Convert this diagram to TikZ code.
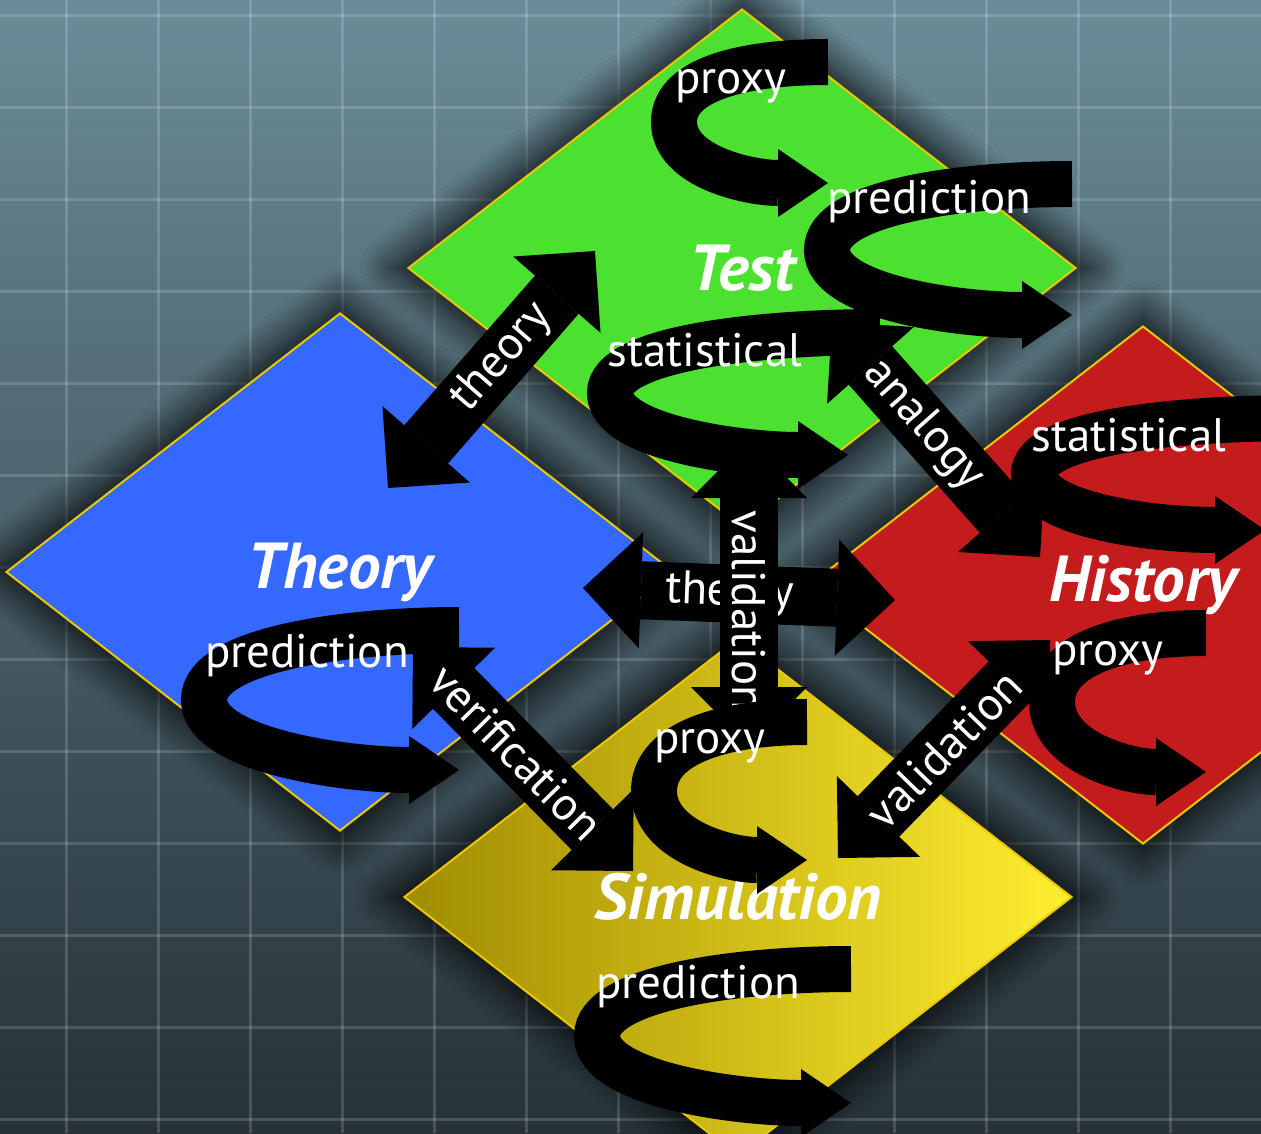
\documentclass[tikz,border=0pt]{standalone}
\usepackage{fontspec}
\setmainfont{PT Sans}
\usetikzlibrary{arrows.meta,shapes.geometric,shadows.blur}

\definecolor{bgtop}{RGB}{106,140,152}
\definecolor{bgbottom}{RGB}{38,50,56}
\definecolor{testgreen}{RGB}{76,224,48}
\definecolor{theoryblue}{RGB}{52,104,255}
\definecolor{historyred}{RGB}{196,28,28}
\definecolor{simdark}{RGB}{160,140,0}
\definecolor{simlight}{RGB}{255,238,48}
\definecolor{rim}{RGB}{235,200,0}

\begin{document}
\begin{tikzpicture}[
		x=1pt, y=-1pt,
		field/.style = {diamond, draw=rim, line width=2pt, minimum width=668pt, minimum height=518pt, inner sep=0pt,
			text=white, font=\fontsize{65}{65}\selectfont\bfseries\itshape,
			blur shadow={shadow xshift=0pt, shadow yshift=0pt, shadow scale=1.05, shadow blur radius=30pt, shadow blur steps=14, shadow opacity=85}},
		link/.style = {line width=58pt, {Triangle[width=116pt,length=58pt,line width=0pt]}-{Triangle[width=116pt,length=58pt,line width=0pt]}},
		selfarrow/.style = {line width=46pt, -{Triangle[width=68pt,length=50pt,line width=0pt]}},
		word/.style = {text=white, font=\fontsize{47}{47}\selectfont, inner sep=0pt}
	]
	\useasboundingbox (0,0) rectangle (1261,1133);
	\clip (0,0) rectangle (1261,1133);
	% board
	\shade[top color=bgtop, bottom color=bgbottom] (0,0) rectangle (1261,1133);
	\foreach \gx in {66,158,...,1262}
		\draw[white, opacity=.16, line width=3pt] (\gx,0) -- (\gx,1133);
	\foreach \gy in {15,107,...,1119}
		\draw[white, opacity=.16, line width=3pt] (0,\gy) -- (1261,\gy);

	% the four fields
	\node[field, fill=testgreen] (test) at (742,268) {Test};
	\node[field, fill=theoryblue] (theory) at (340,572) {Theory};
	\node[field, fill=historyred] (history) at (1143,585) {History};
	\node[field, left color=simdark, right color=simlight] (sim) at (738,897) {Simulation};

	% links between fields
	\coordinate (hz1) at (583,588);  \coordinate (hz2) at (895,600);
	\coordinate (vt1) at (749,440);  \coordinate (vt2) at (749,745);
	\coordinate (dg1) at (388,488);  \coordinate (dg2) at (595,251);
	\coordinate (an1) at (832,322);  \coordinate (an2) at (1040,557);
	\coordinate (vf1) at (413,647);  \coordinate (vf2) at (633,871);
	\coordinate (vd1) at (1050,640); \coordinate (vd2) at (838,858);
	\draw[link] (hz1) -- node[word, sloped, pos=.47] (hzlabel) {theory} (hz2);
	\draw[link] (vt1) -- node[word, rotate=-90, pos=.56] (vtlabel) {validation} (vt2);
	\draw[link] (dg1) -- node[word, sloped, pos=.55] (dglabel) {theory} (dg2);
	\draw[link] (an1) -- node[word, sloped, pos=.44] (anlabel) {analogy} (an2);
	\draw[link] (vf1) -- node[word, sloped, pos=.47] (vflabel) {verification} (vf2);
	\draw[link] (vd1) -- node[word, sloped, pos=.5] (vdlabel) {validation} (vd2);

	% loops inside the fields
	\coordinate (tp1) at (828,62);   \coordinate (tp2) at (674,122);  \coordinate (tp3) at (828,183);
	\coordinate (tr1) at (1072,184); \coordinate (tr2) at (827,250);  \coordinate (tr3) at (1072,315);
	\coordinate (ts1) at (880,332);  \coordinate (ts2) at (610,393);  \coordinate (ts3) at (848,455);
	\coordinate (yr1) at (459,630);  \coordinate (yr2) at (204,700);  \coordinate (yr3) at (459,770);
	\coordinate (hs1) at (1300,418); \coordinate (hs2) at (1034,474); \coordinate (hs3) at (1265,530);
	\coordinate (hp1) at (1206,633); \coordinate (hp2) at (1052,702); \coordinate (hp3) at (1206,772);
	\coordinate (sp1) at (807,722);  \coordinate (sp2) at (654,791);  \coordinate (sp3) at (807,860);
	\coordinate (sr1) at (851,969);  \coordinate (sr2) at (597,1036); \coordinate (sr3) at (851,1103);
	\draw[selfarrow] (tp1) .. controls +(-78,0) and +(0,-45) .. (tp2) .. controls +(0,45) and +(-78,0) .. (tp3);
	\draw[selfarrow] (tr1) .. controls +(-110,0) and +(0,-48) .. (tr2) .. controls +(0,48) and +(-110,0) .. (tr3);
	\draw[selfarrow] (ts1) .. controls +(-120,0) and +(0,-45) .. (ts2) .. controls +(0,45) and +(-105,0) .. (ts3);
	\draw[selfarrow] (yr1) .. controls +(-115,0) and +(0,-50) .. (yr2) .. controls +(0,50) and +(-115,0) .. (yr3);
	\draw[selfarrow] (hs1) .. controls +(-130,0) and +(0,-40) .. (hs2) .. controls +(0,40) and +(-115,0) .. (hs3);
	\draw[selfarrow] (hp1) .. controls +(-78,0) and +(0,-50) .. (hp2) .. controls +(0,50) and +(-78,0) .. (hp3);
	\draw[selfarrow] (sp1) .. controls +(-78,0) and +(0,-50) .. (sp2) .. controls +(0,50) and +(-78,0) .. (sp3);
	\draw[selfarrow] (sr1) .. controls +(-115,0) and +(0,-48) .. (sr2) .. controls +(0,48) and +(-115,0) .. (sr3);

	% loop labels
	\node[word, anchor=base] (tplabel) at (731,93) {proxy};
	\node[word, anchor=base] (trlabel) at (929,213) {prediction};
	\node[word, anchor=base] (tslabel) at (705,366) {statistical};
	\node[word, anchor=base] (yrlabel) at (307,667) {prediction};
	\node[word, anchor=base] (hslabel) at (1129,451) {statistical};
	\node[word, anchor=base] (hplabel) at (1108,665) {proxy};
	\node[word, anchor=base] (splabel) at (710,753) {proxy};
	\node[word, anchor=base] (srlabel) at (698,998) {prediction};
\end{tikzpicture}
\end{document}
